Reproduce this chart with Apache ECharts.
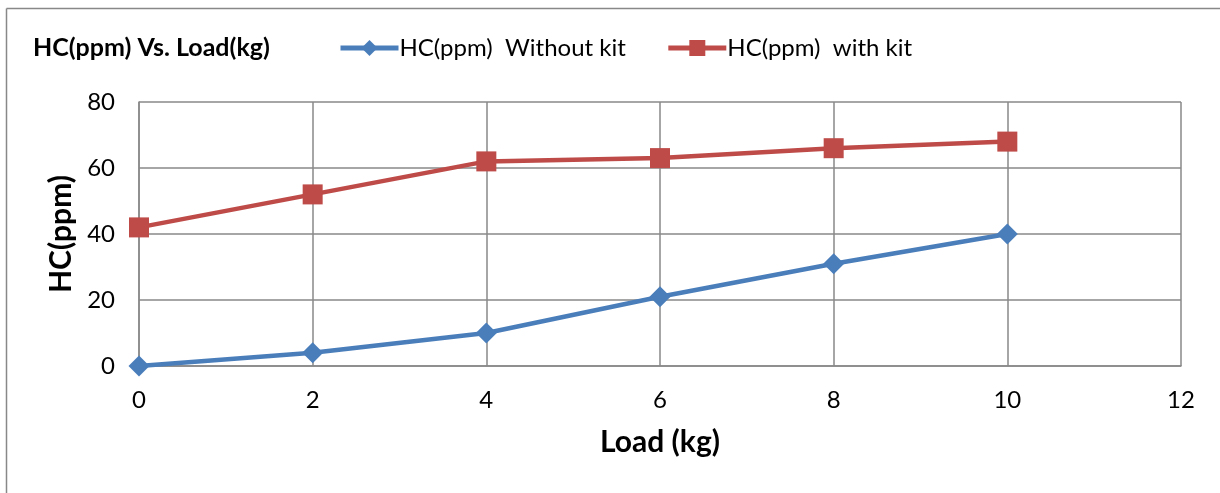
<!DOCTYPE html>
<html>
<head>
<meta charset="utf-8">
<script src="https://cdn.jsdelivr.net/npm/echarts@6/dist/echarts.min.js"></script>
<style>
html,body{margin:0;padding:0;background:#fff;}
#chart{width:1220px;height:493px;}
</style>
</head>
<body>
<div id="chart"></div>
<script>
var loads = [0, 2, 4, 6, 8, 10];
var hcWithoutKit = [0, 4, 10, 21, 31, 40];
var hcWithKit = [42, 52, 62, 63, 66, 68];
var seriesNames = ['HC(ppm)  Without kit', 'HC(ppm)  with kit'];
var chartTitle = 'HC(ppm) Vs. Load(kg)';
var xAxisName = 'Load (kg)';
var yAxisName = 'HC(ppm)';

function pairs(xs, ys){ return xs.map(function(x,i){ return [x, ys[i]]; }); }

var FONT = 'Lato, "Open Sans", sans-serif';
var chart = echarts.init(document.getElementById('chart'));
chart.setOption({
  animation: false,
  backgroundColor: '#fff',
  textStyle: { fontFamily: FONT },
  title: {
    text: chartTitle, left: 28, top: 30,
    textStyle: { fontFamily: FONT, fontWeight: 'bold', fontSize: 25, color: '#000' }
  },
  legend: {
    top: 31, left: 333, itemGap: 40, itemWidth: 58, itemHeight: 20,
    textStyle: { fontFamily: FONT, fontSize: 24, color: '#000', padding: [0,0,0,-4] },
    itemStyle: { borderWidth: 0 },
    lineStyle: { width: 5 },
    data: [
      { name: seriesNames[0] },
      { name: seriesNames[1] }
    ]
  },
  graphic: [
    { type: 'line', shape: { x1: 6.5, y1: 8.5, x2: 1220, y2: 8.5 }, style: { stroke: '#888', lineWidth: 1.5 } },
    { type: 'line', shape: { x1: 6.5, y1: 8.5, x2: 6.5, y2: 493 }, style: { stroke: '#888', lineWidth: 1.5 } }
  ],
  grid: { left: 139, right: 39, top: 102, bottom: 127, containLabel: false },
  xAxis: {
    type: 'value', min: 0, max: 12, interval: 2,
    name: xAxisName, nameLocation: 'middle', nameGap: 61,
    nameTextStyle: { fontFamily: FONT, fontWeight: 'bold', fontSize: 30, color: '#000' },
    axisLine: { show: true, lineStyle: { color: '#888', width: 1.5 } },
    axisTick: { show: false },
    axisLabel: { fontSize: 24, color: '#000', margin: 22 },
    splitLine: { show: true, lineStyle: { color: '#888', width: 1.5 } }
  },
  yAxis: {
    type: 'value', min: 0, max: 80, interval: 20,
    name: yAxisName, nameLocation: 'middle', nameGap: 62,
    nameTextStyle: { fontFamily: FONT, fontWeight: 'bold', fontSize: 30, color: '#000' },
    axisLine: { show: true, lineStyle: { color: '#888', width: 1.5 } },
    axisTick: { show: false },
    axisLabel: { fontSize: 24, color: '#000', margin: 24 },
    splitLine: { show: true, lineStyle: { color: '#888', width: 1.5 } }
  },
  series: [
    {
      name: seriesNames[0], type: 'line', data: pairs(loads, hcWithoutKit),
      symbol: 'diamond', symbolSize: 21,
      itemStyle: { color: '#4a7ebb' },
      lineStyle: { color: '#4a7ebb', width: 4.5 },
      z: 3
    },
    {
      name: seriesNames[1], type: 'line', data: pairs(loads, hcWithKit),
      symbol: 'rect', symbolSize: 20,
      itemStyle: { color: '#be4b48' },
      lineStyle: { color: '#be4b48', width: 4.5 },
      z: 3
    }
  ]
});
</script>
</body>
</html>
